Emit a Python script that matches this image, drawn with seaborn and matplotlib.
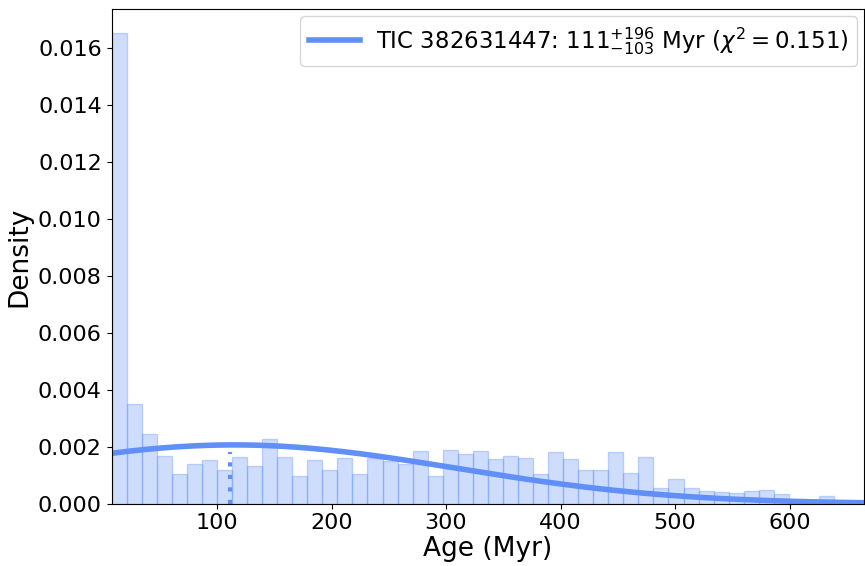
import numpy as np
import pandas as pd
import matplotlib
matplotlib.use("Agg")
import matplotlib.pyplot as plt
import seaborn as sns

# Age posterior histogram (density per bin), 50 equal bins spanning the sample range
age_min, age_max, n_bins = 8.0, 665.0, 50
density = [
    0.01655, 0.00351, 0.00244, 0.00169, 0.00105, 0.00138, 0.00154, 0.00120, 0.00164, 0.00134,
    0.00228, 0.00164, 0.00097, 0.00152, 0.00117, 0.00160, 0.00105, 0.00159, 0.00149, 0.00138,
    0.00187, 0.00099, 0.00189, 0.00173, 0.00187, 0.00157, 0.00167, 0.00161, 0.00106, 0.00180,
    0.00157, 0.00120, 0.00120, 0.00180, 0.00108, 0.00163, 0.00055, 0.00088, 0.00055, 0.00046,
    0.00040, 0.00036, 0.00046, 0.00049, 0.00035, 0.00012, 0.00012, 0.00026, 0.00006, 0.00004,
]

# Gaussian fit to the age distribution
fit_mu, fit_sigma = 115.0, 193.0
best_age, err_hi, err_lo, chi2 = 111, 196, 103, 0.151
marker_height = 0.00182

line_color = "#5F8FF7"
bar_edge = (0.37, 0.56, 0.97, 0.35)

edges = np.linspace(age_min, age_max, n_bins + 1)
hist_df = pd.DataFrame({
    "age": 0.5 * (edges[:-1] + edges[1:]),
    "density": density,
})

fig, ax = plt.subplots(figsize=(8.65, 5.66), dpi=100)
fig.subplots_adjust(left=0.129, right=0.999, top=0.984, bottom=0.11)

sns.histplot(data=hist_df, x="age", weights="density", bins=edges.tolist(), stat="count",
             color=line_color, alpha=0.3, edgecolor=bar_edge, linewidth=1.0, ax=ax)

grid = np.linspace(age_min, age_max, 400)
pdf = np.exp(-0.5 * ((grid - fit_mu) / fit_sigma) ** 2) / (fit_sigma * np.sqrt(2 * np.pi))
label = (f"TIC 382631447: ${best_age}^{{+{err_hi}}}_{{-{err_lo}}}$ Myr "
         f"($\\chi^2 = {chi2}$)")
sns.lineplot(x=grid, y=pdf, color=line_color, linewidth=4, label=label, ax=ax)

ax.vlines(best_age, 0, marker_height, colors=line_color, linestyles=(0, (1, 2)), linewidth=3)

ax.set_xlim(age_min, age_max)
ax.set_ylim(0, max(density) * 1.05)
ax.set_yticks(np.arange(0, 0.0161, 0.002))
ax.set_xlabel("Age (Myr)", fontsize=19, labelpad=2)
ax.set_ylabel("Density", fontsize=19)
ax.tick_params(labelsize=16)
ax.legend(loc="upper right", fontsize=16.5, handlelength=2.2, handletextpad=0.7,
          borderaxespad=0.3)

fig.savefig("out.png", dpi=100)
